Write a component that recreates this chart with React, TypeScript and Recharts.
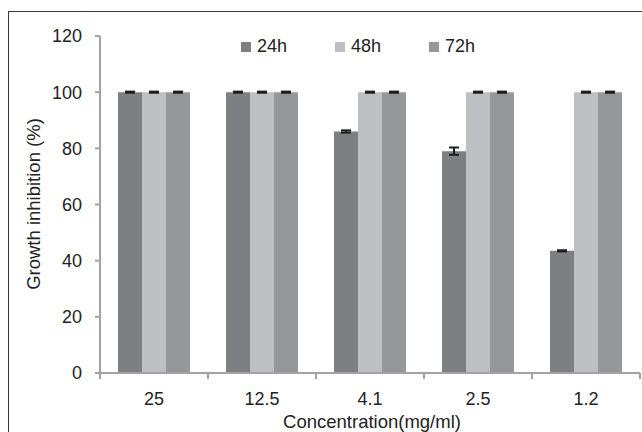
import React from 'react';
import { BarChart, Bar, XAxis, YAxis, ErrorBar, Label } from 'recharts';

const categories = ['25', '12.5', '4.1', '2.5', '1.2'];
const seriesNames = ['24h', '48h', '72h'];
const values24h = [100, 100, 86, 79, 43.5];
const values48h = [100, 100, 100, 100, 100];
const values72h = [100, 100, 100, 100, 100];
const err24h = [0.2, 0.2, 0.4, 1.3, 0.2];
const err48h = [0.2, 0.2, 0.2, 0.2, 0.2];
const err72h = [0.2, 0.2, 0.2, 0.2, 0.2];
const yTicks = [0, 20, 40, 60, 80, 100, 120];
const colors = ['#7e7f83', '#bebfc3', '#96979b'];

const FONT = '"Liberation Sans", Arial, sans-serif';
const AXIS = '#a3a3a3';
const TEXT = '#222222';

const data = categories.map((c, i) => ({
  conc: c,
  h24: values24h[i],
  h48: values48h[i],
  h72: values72h[i],
  e24: err24h[i],
  e48: err48h[i],
  e72: err72h[i],
}));

const XTick = (props: any) => {
  const { x, y, payload, index } = props;
  const half = payload && typeof payload.offset === 'number' && payload.offset > 0 ? payload.offset : 54;
  return (
    <g>
      <line x1={x - half} x2={x - half} y1={y} y2={y + 6} stroke={AXIS} strokeWidth={2} />
      {index === categories.length - 1 && (
        <line x1={x + half} x2={x + half} y1={y} y2={y + 6} stroke={AXIS} strokeWidth={2} />
      )}
      <text x={x} y={y + 32} textAnchor="middle" fontSize={18} fill={TEXT} fontFamily={FONT}>
        {payload.value}
      </text>
    </g>
  );
};

export default function App() {
  return (
    <div style={{ position: 'absolute', left: 0, top: 0, width: 642, height: 432, overflow: 'hidden', background: '#fff' }}>
      <div
        style={{
          position: 'absolute',
          left: 8,
          top: 11,
          width: 800,
          height: 600,
          borderLeft: '1.5px solid #3a3a3a',
          borderTop: '1.5px solid #3a3a3a',
        }}
      />
      <div style={{ position: 'absolute', left: 0, top: 0 }}>
        <BarChart
          width={642}
          height={432}
          data={data}
          margin={{ top: 36, right: 2, bottom: 0, left: 0 }}
          barCategoryGap={18}
          barGap={0}
        >
          <XAxis
            dataKey="conc"
            height={59}
            interval={0}
            tickLine={false}
            tickSize={0}
            tickMargin={0}
            axisLine={{ stroke: AXIS, strokeWidth: 2 }}
            tick={<XTick />}
          >
            <Label
              content={() => (
                <text x={372} y={428} textAnchor="middle" fontSize={18.5} fill={TEXT} fontFamily={FONT}>
                  Concentration(mg/ml)
                </text>
              )}
            />
          </XAxis>
          <YAxis
            width={100}
            domain={[0, 120]}
            ticks={yTicks}
            interval={0}
            tickSize={5}
            tickMargin={13}
            axisLine={{ stroke: AXIS, strokeWidth: 2 }}
            tickLine={{ stroke: AXIS, strokeWidth: 2 }}
            tick={{ fontSize: 18, fill: TEXT, fontFamily: FONT }}
          >
            <Label
              content={() => (
                <text
                  x={40}
                  y={204}
                  transform="rotate(-90 40 204)"
                  textAnchor="middle"
                  fontSize={18.5}
                  fill={TEXT}
                  fontFamily={FONT}
                >
                  Growth inhibition (%)
                </text>
              )}
            />
          </YAxis>
          <Bar dataKey="h24" name={seriesNames[0]} fill={colors[0]} isAnimationActive={false}>
            <ErrorBar dataKey="e24" width={5} strokeWidth={2} stroke="#1e1e1e" direction="y" />
          </Bar>
          <Bar dataKey="h48" name={seriesNames[1]} fill={colors[1]} isAnimationActive={false}>
            <ErrorBar dataKey="e48" width={5} strokeWidth={2} stroke="#1e1e1e" direction="y" />
          </Bar>
          <Bar dataKey="h72" name={seriesNames[2]} fill={colors[2]} isAnimationActive={false}>
            <ErrorBar dataKey="e72" width={5} strokeWidth={2} stroke="#1e1e1e" direction="y" />
          </Bar>
        </BarChart>
      </div>
      {seriesNames.map((name, i) => (
        <div
          key={name}
          style={{
            position: 'absolute',
            left: 241 + i * 94,
            top: 37,
            height: 18,
            lineHeight: '18px',
            fontSize: 18,
            fontFamily: FONT,
            color: TEXT,
            whiteSpace: 'nowrap',
          }}
        >
          <span
            style={{
              display: 'inline-block',
              width: 10,
              height: 10,
              background: colors[i],
              position: 'absolute',
              left: 0,
              top: 5,
            }}
          />
          <span style={{ position: 'absolute', left: 16, top: 0 }}>{name}</span>
        </div>
      ))}
    </div>
  );
}
